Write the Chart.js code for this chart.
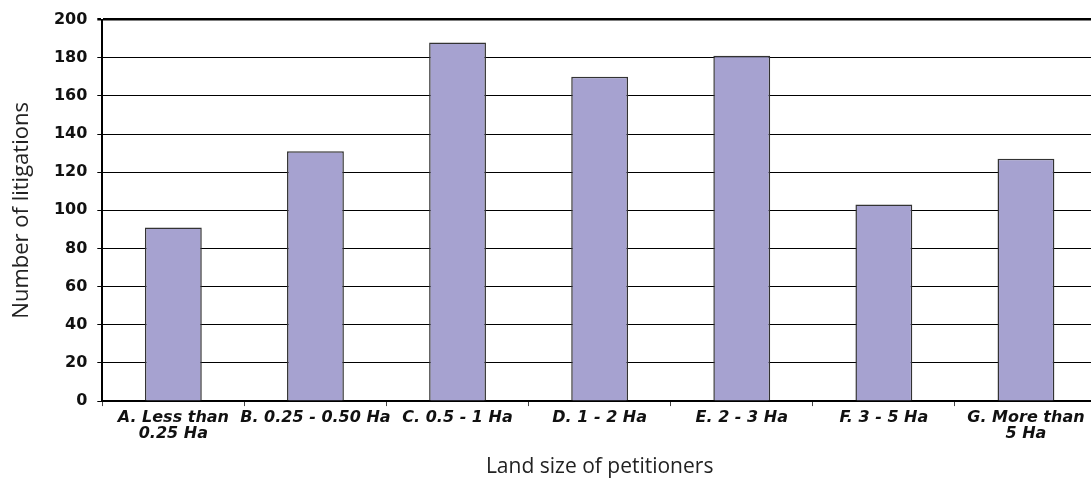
<!DOCTYPE html>
<html>
  <head>
    <title>Litigations by land size</title>
    <script src="https://cdn.jsdelivr.net/npm/chart.js@4"></script>
    <style>
    body{
    	margin: 0;
    	background-color: white;
    	overflow: hidden;
    }
    .container{
    	width: 1098px;
    	height: 482px;
    }
  	</style>
  </head>
  <body>

    <div class='container'>
      <canvas id="litigations"></canvas>
    </div>

  <script type="text/javascript">

  var categories = [
    ["A. Less than", "0.25 Ha"],
    "B. 0.25 - 0.50 Ha",
    "C. 0.5 - 1 Ha",
    "D. 1 - 2 Ha",
    "E. 2 - 3 Ha",
    "F. 3 - 5 Ha",
    ["G. More than", "5 Ha"]
  ];
  var litigations = [91, 131, 188, 170, 181, 103, 127];
  var yTicks = [0, 20, 40, 60, 80, 100, 120, 140, 160, 180, 200];

  var ctx = document.getElementById("litigations").getContext("2d");

  new Chart(ctx, {
    type: 'bar',
    data: {
      labels: categories,
      datasets: [{
        data: litigations,
        backgroundColor: '#a6a2d0',
        borderColor: '#333333',
        borderWidth: 1.5,
        barPercentage: 0.4,
        categoryPercentage: 1
      }]
    },
    options: {
      responsive: true,
      maintainAspectRatio: false,
      animation: false,
      layout: { padding: { top: 19, left: 9, right: 1, bottom: 2 } },
      plugins: {
        legend: { display: false },
        tooltip: { enabled: false }
      },
      scales: {
        x: {
          grid: {
            drawOnChartArea: false,
            drawTicks: true,
            tickLength: 5,
            color: '#444',
            offset: true
          },
          border: { color: '#000', width: 2 },
          ticks: {
            color: '#111',
            maxRotation: 0,
            minRotation: 0,
            autoSkip: false,
            padding: 4.5,
            font: { family: 'DejaVu Sans', size: 16, weight: 'bold', style: 'italic', lineHeight: 0.96 }
          },
          title: {
            display: true,
            text: 'Land size of petitioners',
            color: '#222',
            padding: { top: 9, bottom: 0 },
            font: { family: 'Open Sans', size: 21 }
          }
        },
        y: {
          min: 0,
          max: 200,
          afterBuildTicks: function (axis) {
            axis.ticks = yTicks.map(function (v) { return { value: v }; });
          },
          grid: {
            color: '#000',
            lineWidth: function (c) { return c.tick && c.tick.value === 200 ? 2.5 : 1; },
            tickLength: 5
          },
          border: { color: '#000', width: 2 },
          ticks: {
            color: '#111',
            padding: 10,
            font: { family: 'DejaVu Sans', size: 16, weight: 'bold' }
          },
          title: {
            display: true,
            text: 'Number of litigations',
            color: '#222',
            padding: { top: 0, bottom: 8.5 },
            font: { family: 'Open Sans', size: 22 }
          }
        }
      }
    }
  });

  </script>
  </body>
</html>
